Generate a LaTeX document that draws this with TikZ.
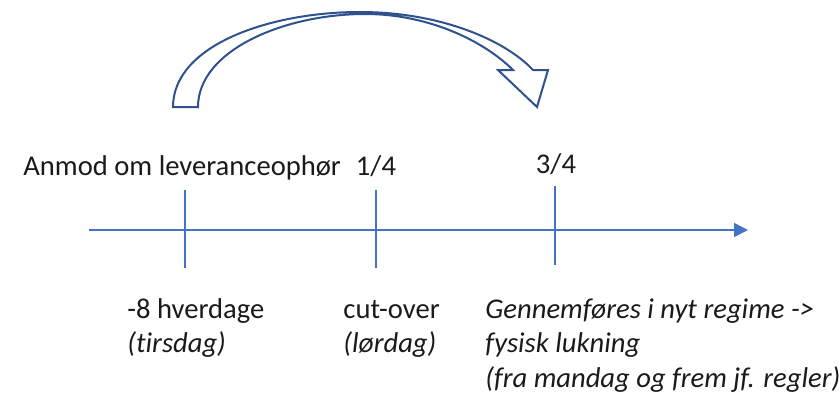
\documentclass[tikz,border=0pt]{standalone}
\usepackage{fontspec}
\setmainfont{Carlito}[Ligatures=NoCommon]
\usetikzlibrary{arrows.meta}
\definecolor{axisblue}{HTML}{4472C4}
\definecolor{darkblue}{HTML}{2F528F}
\definecolor{txt}{HTML}{1A1A1A}
\begin{document}
\begin{tikzpicture}[x=0.5pt, y=-0.5pt, every node/.style={inner sep=0pt, text=txt, font=\fontsize{14.3}{17.25}\selectfont},
  axis/.style={axisblue, line width=0.75pt},
  bigarrow/.style={darkblue, line width=1pt, line join=miter}]
\useasboundingbox (0,0) rectangle (839,393);
\coordinate (A0) at (89,230);
\coordinate (A1) at (748,230);
\coordinate (T1a) at (185,190);
\coordinate (T1b) at (185,268);
\coordinate (T2a) at (376,190);
\coordinate (T2b) at (376,268);
\coordinate (T3a) at (555,186);
\coordinate (T3b) at (555,265);
\draw[axis, -{Triangle[length=7pt, width=7pt]}] (A0) -- (A1);
\draw[axis] (T1a) -- (T1b);
\draw[axis] (T2a) -- (T2b);
\draw[axis] (T3a) -- (T3b);
\node[anchor=base west] (N1) at (23,175) {Anmod om leveranceophør};
\node[anchor=base] (N2) at (376,175) {1/4};
\node[anchor=base] (N3) at (556,173) {3/4};
\node[anchor=base west, align=left] (N4) at (127,352.5) {-8 hverdage\\\textit{(tirsdag)}};
\node[anchor=base west, align=left] (N5) at (343,352.5) {cut-over\\\textit{(lørdag)}};
\node[anchor=base west, align=left, font=\fontsize{14.3}{17.25}\selectfont\itshape] (N6) at (485,387) {Gennemføres i nyt regime ->\\fysisk lukning\\(fra mandag og frem jf. regler)};
\draw[bigarrow] (173,107) .. controls (173,45) and (270,12) .. (360,12)
  .. controls (440,12) and (505,40) .. (533,70) -- (548,70) -- (537,107) -- (498,70) -- (513,70)
  .. controls (485,42) and (430,14) .. (365,14) .. controls (285,14) and (198,50) .. (198,107) -- cycle;
\end{tikzpicture}
\end{document}
